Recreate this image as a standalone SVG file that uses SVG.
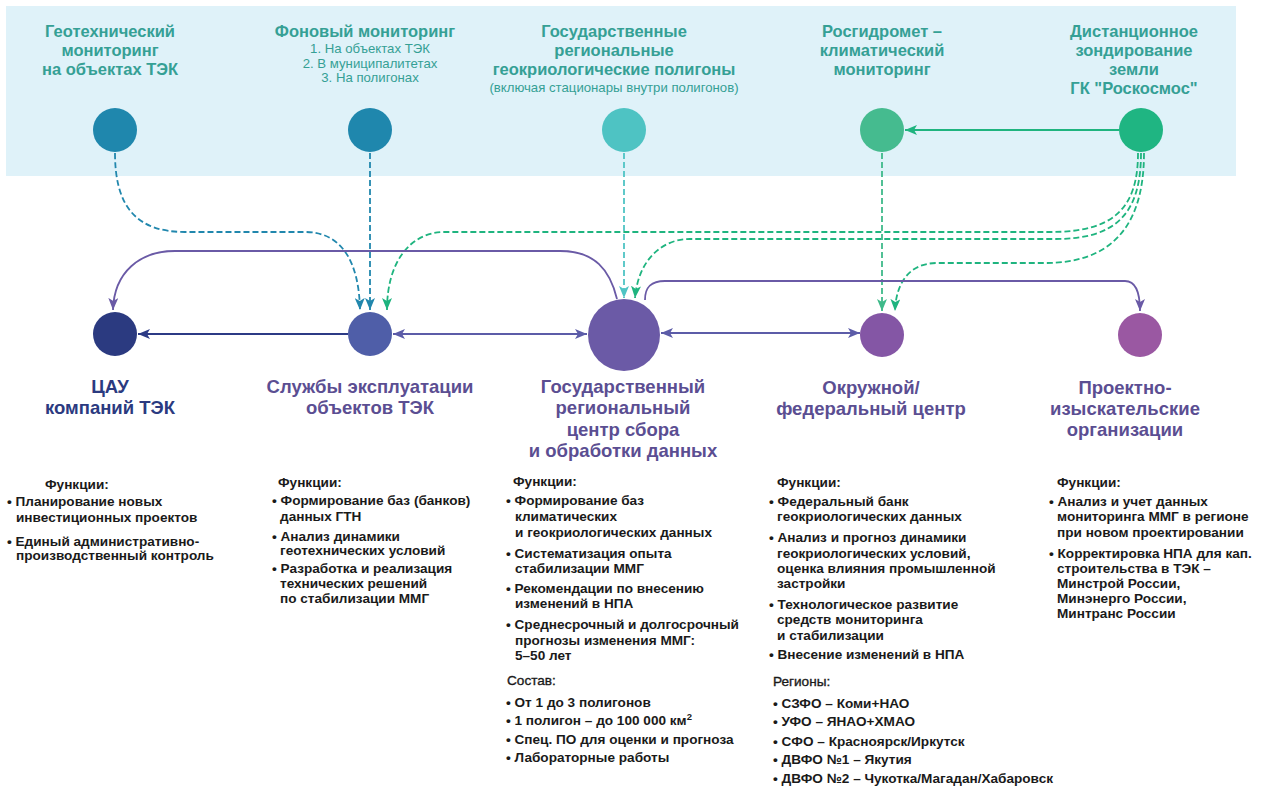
<svg xmlns="http://www.w3.org/2000/svg" width="1261" height="787" viewBox="0 0 1261 787">
<style>
.t{font-family:"Liberation Sans",Arial,sans-serif;font-weight:bold;font-size:16.5px;fill:#35a095;text-anchor:middle}
.ts{font-family:"Liberation Sans",Arial,sans-serif;font-size:13.2px;fill:#35a095;text-anchor:middle}
.lb{font-family:"Liberation Sans",Arial,sans-serif;font-weight:bold;font-size:18.5px;fill:#5b4e92;text-anchor:middle}
.b{font-family:"Liberation Sans",Arial,sans-serif;font-weight:bold;font-size:13.6px;fill:#1a1a1a}
.h{font-family:"Liberation Sans",Arial,sans-serif;font-size:13.6px;fill:#1a1a1a;stroke:#1a1a1a;stroke-width:0.35}
.dash{fill:none;stroke-width:1.8;stroke-dasharray:6 3}
.sol{fill:none;stroke-width:1.8}
</style>
<defs>
<marker id="aTeal" markerUnits="userSpaceOnUse" markerWidth="12" markerHeight="10" refX="12" refY="5" orient="auto"><path d="M0,0 L12,5 L0,10 L3,5 Z" fill="#2187ad"/></marker>
<marker id="aCyan" markerUnits="userSpaceOnUse" markerWidth="12" markerHeight="10" refX="12" refY="5" orient="auto"><path d="M0,0 L12,5 L0,10 L3,5 Z" fill="#4fc4c4"/></marker>
<marker id="aMint" markerUnits="userSpaceOnUse" markerWidth="12" markerHeight="10" refX="12" refY="5" orient="auto"><path d="M0,0 L12,5 L0,10 L3,5 Z" fill="#3fba8a"/></marker>
<marker id="aGreen" markerUnits="userSpaceOnUse" markerWidth="12" markerHeight="10" refX="12" refY="5" orient="auto"><path d="M0,0 L12,5 L0,10 L3,5 Z" fill="#1fb47f"/></marker>
<marker id="aPurple" markerUnits="userSpaceOnUse" markerWidth="12" markerHeight="10" refX="12" refY="5" orient="auto"><path d="M0,0 L12,5 L0,10 L3,5 Z" fill="#6a5aa6"/></marker>
<marker id="aNavy" markerUnits="userSpaceOnUse" markerWidth="12" markerHeight="10" refX="12" refY="5" orient="auto"><path d="M0,0 L12,5 L0,10 L3,5 Z" fill="#2c3a85"/></marker>
<marker id="aBlue" markerUnits="userSpaceOnUse" markerWidth="12" markerHeight="10" refX="12" refY="5" orient="auto-start-reverse"><path d="M0,0 L12,5 L0,10 L3,5 Z" fill="#5c5ca8"/></marker>
</defs>

<rect x="6" y="6" width="1230" height="170" fill="#dff2f9"/>

<g id="connectors">
<path class="dash" stroke="#2187ad" d="M115,153 C115,205 135,232 185,232 L305,232 C342,232 359,262 360,310" marker-end="url(#aTeal)"/>
<path class="dash" stroke="#2187ad" d="M370,153 L370,310" marker-end="url(#aTeal)"/>
<path class="dash" stroke="#4fc4c4" d="M624,153 L624,298" marker-end="url(#aCyan)"/>
<path class="dash" stroke="#3fba8a" d="M882,153 L882,311" marker-end="url(#aMint)"/>
<path class="sol" stroke="#1fb47f" d="M1119,130 L905,130" marker-end="url(#aGreen)"/>
<path class="dash" stroke="#1fb47f" d="M1138,153 C1138,210 1112,232 1050,232 L445,232 C410,232 387,262 387,310" marker-end="url(#aGreen)"/>
<path class="dash" stroke="#1fb47f" d="M1141,153 C1141,215 1115,239 1055,239 L690,239 C660,239 638,262 635,298" marker-end="url(#aGreen)"/>
<path class="dash" stroke="#1fb47f" d="M1144,153 C1144,228 1110,263 1045,263 L937,263 C910,263 896,282 895,311" marker-end="url(#aGreen)"/>
<path class="sol" stroke="#6a5aa6" d="M617,299 C610,270 595,251 560,251 L175,251 C140,251 114,272 113,310" marker-end="url(#aPurple)"/>
<path class="sol" stroke="#6a5aa6" d="M645,300 C645,288 650,281 665,281 L1125,281 C1135,281 1140,290 1140,311" marker-end="url(#aPurple)"/>
<path class="sol" stroke="#2c3a85" d="M348,334 L138,334" marker-end="url(#aNavy)"/>
<path class="sol" stroke="#5c5ca8" d="M393,334 L587,334" marker-start="url(#aBlue)" marker-end="url(#aBlue)"/>
<path class="sol" stroke="#5c5ca8" d="M661,333 L860,333" marker-start="url(#aBlue)" marker-end="url(#aBlue)"/>
</g>

<g id="src-geotech">
<circle cx="115" cy="130" r="22" fill="#1f87ad"/>
<text class="t" x="110" y="37">Геотехнический</text>
<text class="t" x="110" y="56">мониторинг</text>
<text class="t" x="110" y="75">на объектах ТЭК</text>
</g>
<g id="src-fon">
<circle cx="370" cy="130" r="22" fill="#1f87ad"/>
<text class="t" x="365" y="37">Фоновый мониторинг</text>
<text class="ts" x="370" y="52.5">1. На объектах ТЭК</text>
<text class="ts" x="370" y="67.5">2. В муниципалитетах</text>
<text class="ts" x="370" y="82">3. На полигонах</text>
</g>
<g id="src-poly">
<circle cx="624" cy="130" r="22" fill="#4ec3c3"/>
<text class="t" x="614" y="37">Государственные</text>
<text class="t" x="614" y="56">региональные</text>
<text class="t" x="614" y="75">геокриологические полигоны</text>
<text class="ts" x="614" y="91.5">(включая стационары внутри полигонов)</text>
</g>
<g id="src-rosgidromet">
<circle cx="882" cy="130" r="22" fill="#45bb8f"/>
<text class="t" x="882" y="37">Росгидромет –</text>
<text class="t" x="882" y="56">климатический</text>
<text class="t" x="882" y="75">мониторинг</text>
</g>
<g id="src-dzz">
<circle cx="1141" cy="130" r="22" fill="#1fb582"/>
<text class="t" x="1134" y="37">Дистанционное</text>
<text class="t" x="1134" y="56">зондирование</text>
<text class="t" x="1134" y="75">земли</text>
<text class="t" x="1134" y="94">ГК "Роскосмос"</text>
</g>

<g id="node-cau">
<circle cx="115" cy="334" r="22" fill="#2b3a80"/>
<text class="lb" x="110" y="393" style="fill:#2b3a80">ЦАУ</text>
<text class="lb" x="110" y="414" style="fill:#2b3a80">компаний ТЭК</text>
<text class="b" x="45" y="488.5">Функции:</text>
<text class="b" x="7" y="505.5">• Планирование новых</text>
<text class="b" x="16" y="521.5">инвестиционных проектов</text>
<text class="b" x="7" y="545.5">• Единый административно-</text>
<text class="b" x="16" y="560">производственный контроль</text>
</g>

<g id="node-sluzhby">
<circle cx="370" cy="334" r="22" fill="#4f5ea8"/>
<text class="lb" x="370" y="393">Службы эксплуатации</text>
<text class="lb" x="370" y="414">объектов ТЭК</text>
<text class="b" x="278" y="486.5">Функции:</text>
<text class="b" x="272" y="505">• Формирование баз (банков)</text>
<text class="b" x="280" y="520.5">данных ГТН</text>
<text class="b" x="272" y="540.5">• Анализ динамики</text>
<text class="b" x="280" y="555">геотехнических условий</text>
<text class="b" x="272" y="573">• Разработка и реализация</text>
<text class="b" x="280" y="588">технических решений</text>
<text class="b" x="280" y="603">по стабилизации ММГ</text>
</g>

<g id="node-center">
<circle cx="624" cy="335" r="36" fill="#6b5aa6"/>
<text class="lb" x="623" y="393">Государственный</text>
<text class="lb" x="623" y="414">региональный</text>
<text class="lb" x="623" y="436">центр сбора</text>
<text class="lb" x="623" y="457">и обработки данных</text>
<text class="b" x="513" y="485.5">Функции:</text>
<text class="b" x="506" y="504.5">• Формирование баз</text>
<text class="b" x="515" y="520.5">климатических</text>
<text class="b" x="515" y="536.5">и геокриологических данных</text>
<text class="b" x="506" y="557.5">• Систематизация опыта</text>
<text class="b" x="515" y="572.5">стабилизации ММГ</text>
<text class="b" x="506" y="593">• Рекомендации по внесению</text>
<text class="b" x="515" y="608">изменений в НПА</text>
<text class="b" x="506" y="629">• Среднесрочный и долгосрочный</text>
<text class="b" x="515" y="644.5">прогнозы изменения ММГ:</text>
<text class="b" x="515" y="660">5–50 лет</text>
<text class="h" x="507" y="684.5">Состав:</text>
<text class="b" x="506" y="706.5">• От 1 до 3 полигонов</text>
<text class="b" x="506" y="724.5">• 1 полигон – до 100 000 км<tspan dy="-5" font-size="9.5">2</tspan></text>
<text class="b" x="506" y="743.5">• Спец. ПО для оценки и прогноза</text>
<text class="b" x="506" y="762">• Лабораторные работы</text>
</g>

<g id="node-okrug">
<circle cx="882" cy="335" r="22" fill="#8456a5"/>
<text class="lb" x="871" y="394">Окружной/</text>
<text class="lb" x="871" y="415">федеральный центр</text>
<text class="b" x="777" y="486.5">Функции:</text>
<text class="b" x="769" y="505.5">• Федеральный банк</text>
<text class="b" x="777" y="520.5">геокриологических данных</text>
<text class="b" x="769" y="541.5">• Анализ и прогноз динамики</text>
<text class="b" x="777" y="557.5">геокриологических условий,</text>
<text class="b" x="777" y="572.5">оценка влияния промышленной</text>
<text class="b" x="777" y="587.5">застройки</text>
<text class="b" x="769" y="608.5">• Технологическое развитие</text>
<text class="b" x="777" y="623.5">средств мониторинга</text>
<text class="b" x="777" y="639.5">и стабилизации</text>
<text class="b" x="769" y="658.5">• Внесение изменений в НПА</text>
<text class="h" x="773" y="685.5">Регионы:</text>
<text class="b" x="773" y="707.5">• СЗФО – Коми+НАО</text>
<text class="b" x="773" y="725.5">• УФО – ЯНАО+ХМАО</text>
<text class="b" x="773" y="745.5">• СФО – Красноярск/Иркутск</text>
<text class="b" x="773" y="763.5">• ДВФО №1 – Якутия</text>
<text class="b" x="773" y="782.5">• ДВФО №2 – Чукотка/Магадан/Хабаровск</text>
</g>

<g id="node-proekt">
<circle cx="1140" cy="335" r="22" fill="#9a58a2"/>
<text class="lb" x="1125" y="394">Проектно-</text>
<text class="lb" x="1125" y="415">изыскательские</text>
<text class="lb" x="1125" y="436">организации</text>
<text class="b" x="1057" y="486.5">Функции:</text>
<text class="b" x="1049" y="505.5">• Анализ и учет данных</text>
<text class="b" x="1057" y="520.5">мониторинга ММГ в регионе</text>
<text class="b" x="1057" y="536.5">при новом проектировании</text>
<text class="b" x="1049" y="557.5">• Корректировка НПА для кап.</text>
<text class="b" x="1057" y="572.5">строительства в ТЭК –</text>
<text class="b" x="1057" y="587.5">Минстрой России,</text>
<text class="b" x="1057" y="603">Минэнерго России,</text>
<text class="b" x="1057" y="618">Минтранс России</text>
</g>
</svg>
